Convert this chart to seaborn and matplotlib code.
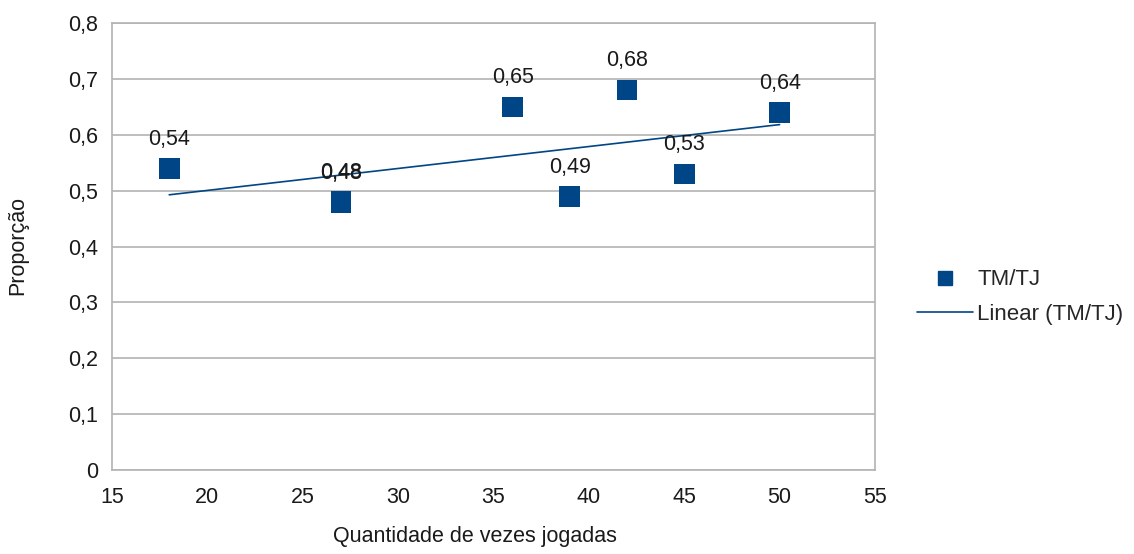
import numpy as np
import pandas as pd
import matplotlib
matplotlib.use("Agg")
import matplotlib.pyplot as plt
from matplotlib.lines import Line2D
import seaborn as sns

# Data
vezes = [18, 27, 27, 36, 39, 42, 45, 50]
proporcao = [0.54, 0.479, 0.481, 0.65, 0.49, 0.68, 0.53, 0.64]
x_ticks = [15, 20, 25, 30, 35, 40, 45, 50, 55]
y_ticks = [0, 0.1, 0.2, 0.3, 0.4, 0.5, 0.6, 0.7, 0.8]
serie_nome = "TM/TJ"
tend_nome = "Linear (TM/TJ)"

df = pd.DataFrame({"x": vezes, "y": proporcao})

sns.set_theme(style="white")
plt.rcParams["font.family"] = ["Liberation Sans", "DejaVu Sans"]

BLUE = "#004586"
GRID = "#b3b3b3"
TXT = "#1a1a1a"
FS = 15.5

fig = plt.figure(figsize=(11.34, 5.54), dpi=100)
ax = fig.add_axes([112 / 1134, 84 / 554, 763 / 1134, 447 / 554])

ax.set_xlim(15, 55)
ax.set_ylim(0, 0.8)
ax.set_yticks(y_ticks)
ax.set_xticks(x_ticks)
ax.yaxis.grid(True, color=GRID, linewidth=1.2)
ax.set_axisbelow(True)

sns.regplot(data=df, x="x", y="y", scatter=False, ci=None, truncate=True,
            line_kws=dict(color=BLUE, linewidth=1.2), ax=ax)
sns.scatterplot(data=df, x="x", y="y", marker="s", s=220, color=BLUE,
                edgecolor="none", ax=ax, zorder=3)

for xv, yv in zip(vezes, proporcao):
    ax.annotate(f"{yv:.2f}".replace(".", ","), (xv, yv), xytext=(0, 21),
                textcoords="offset points", ha="center", va="center",
                fontsize=FS, color=TXT)

ax.set_yticklabels([("0" if v == 0 else f"{v:.1f}".replace(".", ",")) for v in y_ticks])
ax.set_xticklabels([str(v) for v in x_ticks])
ax.tick_params(axis="both", which="major", length=6.5, width=1.2, color=GRID,
               labelsize=FS, labelcolor=TXT, direction="out")
ax.tick_params(axis="y", pad=3.5)
ax.tick_params(axis="x", pad=6)
for sp in ax.spines.values():
    sp.set_color(GRID)
    sp.set_linewidth(1.2)

ax.set_xlabel("Quantidade de vezes jogadas", fontsize=FS, color=TXT)
ax.set_ylabel("Proporção", fontsize=FS, color=TXT)
ax.xaxis.set_label_coords(0.476, -0.126)
ax.yaxis.set_label_coords(-0.110, 0.503)

handles = [
    Line2D([], [], marker="s", linestyle="none", color=BLUE, markersize=10),
    Line2D([], [], color=BLUE, linewidth=1.2),
]
fig.legend(handles, [serie_nome, tend_nome], loc="center left",
           bbox_to_anchor=(917 / 1134, 1 - 297 / 554), frameon=False,
           fontsize=16, handlelength=2.5, handletextpad=0.2, labelspacing=0.6,
           borderaxespad=0, borderpad=0)

fig.savefig("out.png", dpi=100)
